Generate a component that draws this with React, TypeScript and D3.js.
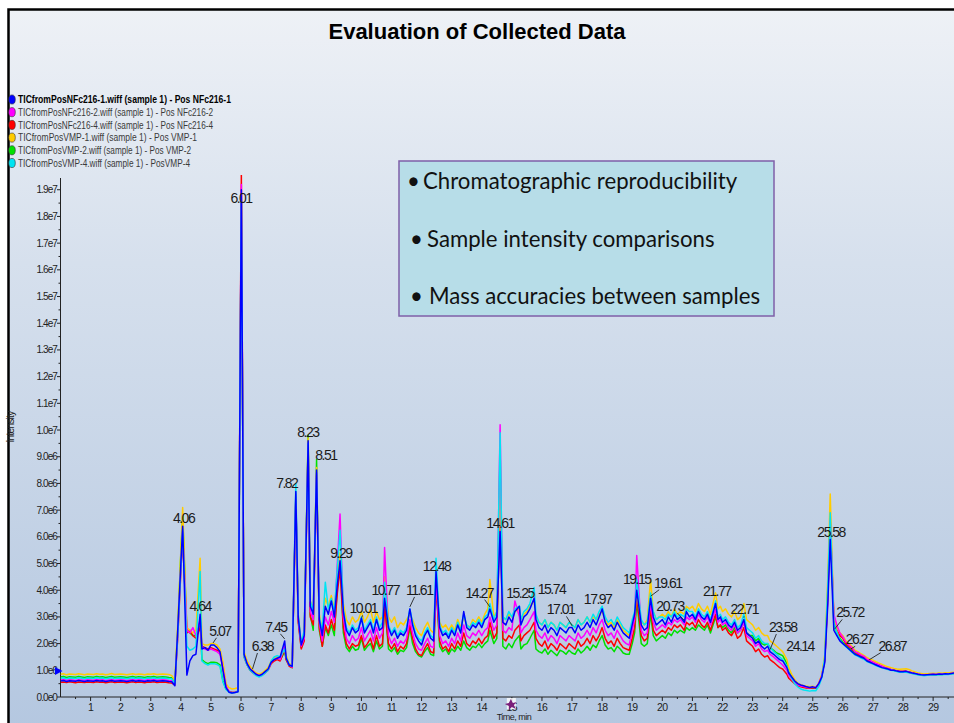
import React, { useEffect } from "react";
import * as d3 from "d3";

const TITLE = "Evaluation of Collected Data";

const legendLabels = [
  "TICfromPosNFc216-1.wiff (sample 1) - Pos NFc216-1",
  "TICfromPosNFc216-2.wiff (sample 1) - Pos NFc216-2",
  "TICfromPosNFc216-4.wiff (sample 1) - Pos NFc216-4",
  "TICfromPosVMP-1.wiff (sample 1) - Pos VMP-1",
  "TICfromPosVMP-2.wiff (sample 1) - Pos VMP-2",
  "TICfromPosVMP-4.wiff (sample 1) - PosVMP-4",
];

const boxLines = [
  "Chromatographic reproducibility",
  "Sample intensity comparisons",
  "Mass accuracies between samples",
];

// retention time, min
const times = [
  0, 0.1, 0.2, 0.3, 0.4, 0.5, 0.6, 0.7, 0.8, 0.9,
  1, 1.1, 1.2, 1.3, 1.4, 1.5, 1.6, 1.7, 1.8, 1.9,
  2, 2.1, 2.2, 2.3, 2.4, 2.5, 2.6, 2.7, 2.8, 2.9,
  3, 3.1, 3.2, 3.3, 3.4, 3.5, 3.6, 3.7, 3.8, 3.9,
  4, 4.06, 4.2, 4.3, 4.4, 4.5, 4.64, 4.7, 4.8, 4.9,
  5, 5.1, 5.2, 5.3, 5.4, 5.5, 5.6, 5.7, 5.8, 5.9,
  6.01, 6.1, 6.2, 6.3, 6.4, 6.5, 6.6, 6.7, 6.8, 6.9,
  7, 7.1, 7.2, 7.3, 7.45, 7.5, 7.6, 7.7, 7.82, 7.9,
  8, 8.1, 8.23, 8.3, 8.4, 8.51, 8.6, 8.7, 8.8, 8.9,
  9, 9.1, 9.2, 9.29, 9.4, 9.5, 9.6, 9.7, 9.8, 9.9,
  10, 10.1, 10.2, 10.3, 10.4, 10.5, 10.6, 10.7, 10.77, 10.9,
  11, 11.1, 11.2, 11.3, 11.4, 11.5, 11.61, 11.7, 11.8, 11.9,
  12, 12.1, 12.2, 12.3, 12.4, 12.48, 12.6, 12.7, 12.8, 12.9,
  13, 13.1, 13.2, 13.3, 13.4, 13.5, 13.6, 13.7, 13.8, 13.9,
  14, 14.1, 14.2, 14.27, 14.4, 14.5, 14.61, 14.7, 14.8, 14.9,
  15, 15.1, 15.25, 15.3, 15.4, 15.5, 15.6, 15.74, 15.8, 15.9,
  16, 16.1, 16.2, 16.3, 16.4, 16.5, 16.6, 16.7, 16.8, 16.9,
  17, 17.1, 17.2, 17.3, 17.4, 17.5, 17.6, 17.7, 17.8, 17.9,
  18, 18.1, 18.2, 18.3, 18.4, 18.5, 18.6, 18.7, 18.8, 18.9,
  19, 19.08, 19.15, 19.3, 19.4, 19.5, 19.61, 19.7, 19.8, 19.9,
  20, 20.1, 20.2, 20.3, 20.4, 20.5, 20.6, 20.73, 20.8, 20.9,
  21, 21.1, 21.2, 21.3, 21.4, 21.5, 21.6, 21.77, 21.85, 21.93,
  22, 22.1, 22.2, 22.3, 22.4, 22.5, 22.6, 22.71, 22.8, 22.9,
  23, 23.1, 23.2, 23.3, 23.4, 23.5, 23.58, 23.7, 23.8, 23.9,
  24, 24.14, 24.2, 24.3, 24.4, 24.5, 24.6, 24.7, 24.8, 24.9,
  25, 25.1, 25.2, 25.3, 25.4, 25.5, 25.58, 25.7, 25.8, 25.9,
  26, 26.1, 26.2, 26.3, 26.4, 26.5, 26.6, 26.7, 26.8, 26.9,
  27, 27.1, 27.2, 27.3, 27.4, 27.5, 27.6, 27.7, 27.8, 27.9,
  28, 28.1, 28.2, 28.3, 28.4, 28.5, 28.6, 28.7, 28.8, 28.9,
  29, 29.1, 29.2, 29.3, 29.4, 29.5, 29.6, 29.7,
];

// intensities in units of 1e6 counts
const nfc216_1 = [
  0.60, 0.62, 0.58, 0.61, 0.60, 0.59, 0.62, 0.60, 0.58, 0.61,
  0.60, 0.59, 0.62, 0.60, 0.61, 0.58, 0.60, 0.62, 0.59, 0.60,
  0.61, 0.60, 0.58, 0.60, 0.62, 0.59, 0.61, 0.60, 0.58, 0.61,
  0.60, 0.62, 0.59, 0.60, 0.61, 0.60, 0.58, 0.57, 0.42, 2.6,
  5.0, 6.4, 0.82, 1.35, 1.55, 1.6, 3.1, 1.8, 1.85, 1.75,
  1.95, 1.95, 1.85, 1.7, 1.0, 0.35, 0.18, 0.15, 0.17, 0.2,
  19.0, 1.6, 1.25, 1.05, 0.95, 0.85, 0.8, 0.85, 0.95, 1.05,
  1.3, 1.4, 1.45, 1.5, 2.1, 1.45, 1.2, 1.15, 7.7, 3.0,
  1.95, 2.3, 9.6, 3.4, 3.1, 8.5, 2.9, 2.3, 3.4, 3.1,
  3.6, 3.0, 4.2, 5.1, 3.2, 2.5, 2.3, 2.6, 2.4, 2.5,
  2.95, 2.4, 2.6, 2.8, 2.4, 2.9, 2.5, 2.6, 3.7, 2.6,
  2.3, 2.5, 2.2, 2.4, 2.3, 2.5, 3.3, 2.7, 2.3, 2.1,
  1.95, 2.3, 2.5, 2.2, 2.1, 4.7, 2.6, 2.3, 2.4, 2.2,
  2.5, 2.3, 2.7, 2.4, 3.2, 2.6, 2.5, 2.7, 2.6, 2.8,
  2.6, 2.9, 3.0, 3.3, 2.8, 3.0, 6.2, 2.8, 2.7, 3.0,
  2.8, 3.2, 3.4, 2.7, 3.0, 3.1, 3.3, 3.7, 2.9, 2.6,
  2.5, 2.7, 2.4, 2.6, 2.5, 2.3, 2.6, 2.5, 2.4, 2.6,
  2.6, 2.4, 2.7, 2.5, 2.6, 2.8, 2.6, 2.9, 2.7, 3.0,
  3.3, 2.8, 2.6, 2.7, 2.5, 2.8, 2.6, 2.4, 2.3, 2.2,
  2.7, 3.1, 4.0, 2.7, 2.5, 2.6, 3.7, 3.0, 2.7, 2.8,
  2.9, 2.7, 3.0, 2.8, 3.1, 2.9, 3.0, 2.8, 3.2, 3.0,
  3.1, 2.9, 3.2, 3.0, 2.9, 3.1, 2.8, 3.5, 2.9, 3.0,
  2.8, 2.9, 2.7, 2.6, 2.8, 2.5, 2.6, 2.9, 2.4, 2.3,
  2.2, 2.0, 2.1, 1.9, 1.8, 1.9, 1.7, 1.6, 1.5, 1.4,
  1.35, 1.1, 0.9, 0.75, 0.6, 0.5, 0.45, 0.42, 0.38, 0.36,
  0.38, 0.35, 0.5, 0.75, 1.3, 3.5, 5.9, 2.5, 2.3, 2.1,
  2.0, 1.9, 1.8, 1.7, 1.6, 1.55, 1.5, 1.45, 1.35, 1.3,
  1.25, 1.2, 1.15, 1.1, 1.08, 1.05, 1.0, 1.0, 0.97, 0.95,
  0.95, 0.96, 0.93, 0.9, 0.88, 0.85, 0.83, 0.82, 0.83, 0.84,
  0.85, 0.84, 0.86, 0.85, 0.87, 0.86, 0.88, 0.9,
];

const nfc216_2 = [
  0.64, 0.66, 0.63, 0.65, 0.64, 0.62, 0.65, 0.64, 0.63, 0.65,
  0.64, 0.63, 0.66, 0.64, 0.65, 0.62, 0.64, 0.66, 0.63, 0.64,
  0.65, 0.64, 0.62, 0.64, 0.66, 0.63, 0.65, 0.64, 0.62, 0.65,
  0.64, 0.66, 0.63, 0.64, 0.65, 0.64, 0.62, 0.61, 0.47, 2.4,
  4.9, 6.2, 2.5, 2.4, 2.6, 2.3, 2.9, 1.85, 1.8, 1.75,
  1.8, 1.75, 1.7, 1.6, 1.05, 0.4, 0.2, 0.16, 0.18, 0.21,
  19.2, 1.55, 1.25, 1.05, 0.95, 0.85, 0.8, 0.84, 0.92, 1.02,
  1.3, 1.4, 1.45, 1.4, 1.9, 1.45, 1.2, 1.12, 7.6, 2.9,
  1.9, 2.2, 9.5, 3.2, 2.9, 8.4, 2.8, 2.1, 3.0, 2.7,
  3.2, 2.8, 5.0, 6.85, 3.0, 2.2, 2.0, 2.3, 2.1, 2.2,
  2.6, 2.1, 2.3, 2.5, 2.1, 2.6, 2.2, 2.4, 5.6, 2.3,
  2.0, 2.2, 1.9, 2.1, 2.0, 2.2, 2.9, 2.4, 2.0, 1.8,
  1.75, 2.0, 2.2, 1.9, 1.85, 4.4, 2.3, 2.0, 2.1, 1.9,
  2.2, 2.0, 2.4, 2.1, 2.7, 2.3, 2.2, 2.4, 2.3, 2.5,
  2.3, 2.5, 2.6, 3.0, 2.5, 2.7, 10.2, 2.5, 2.4, 2.6,
  2.5, 3.6, 3.0, 2.4, 2.6, 2.7, 2.9, 3.2, 2.5, 2.3,
  2.2, 2.4, 2.1, 2.3, 2.2, 2.0, 2.3, 2.2, 2.1, 2.3,
  2.2, 2.1, 2.4, 2.2, 2.3, 2.5, 2.3, 2.6, 2.4, 2.7,
  2.9, 2.5, 2.3, 2.4, 2.2, 2.5, 2.3, 2.1, 2.0, 1.95,
  2.5, 2.9, 5.3, 2.5, 2.3, 2.4, 3.5, 2.8, 2.5, 2.6,
  2.7, 2.6, 2.8, 2.7, 2.9, 2.8, 2.9, 2.7, 3.0, 2.9,
  3.0, 2.8, 3.1, 2.9, 2.8, 3.0, 2.7, 3.3, 2.8, 2.9,
  2.7, 2.8, 2.6, 2.5, 2.7, 2.4, 2.5, 2.8, 2.3, 2.2,
  2.1, 1.9, 2.0, 1.8, 1.7, 1.75, 1.6, 1.5, 1.4, 1.3,
  1.2, 1.0, 0.8, 0.66, 0.55, 0.46, 0.41, 0.39, 0.36, 0.35,
  0.37, 0.35, 0.5, 0.8, 1.4, 3.7, 6.6, 3.1, 2.7, 2.4,
  2.25, 2.05, 1.95, 1.85, 1.7, 1.65, 1.58, 1.52, 1.42, 1.37,
  1.3, 1.25, 1.2, 1.15, 1.1, 1.07, 1.03, 1.0, 0.97, 0.95,
  0.95, 0.96, 0.93, 0.9, 0.87, 0.85, 0.83, 0.82, 0.83, 0.84,
  0.85, 0.84, 0.86, 0.85, 0.87, 0.86, 0.88, 0.89,
];

const nfc216_4 = [
  0.55, 0.56, 0.54, 0.57, 0.55, 0.53, 0.56, 0.55, 0.54, 0.56,
  0.55, 0.54, 0.57, 0.55, 0.56, 0.53, 0.55, 0.57, 0.54, 0.55,
  0.56, 0.55, 0.53, 0.55, 0.57, 0.54, 0.56, 0.55, 0.53, 0.56,
  0.55, 0.57, 0.54, 0.55, 0.56, 0.55, 0.53, 0.52, 0.45, 2.3,
  4.7, 6.0, 2.4, 2.5, 2.3, 2.2, 2.6, 1.9, 1.85, 1.8,
  1.85, 1.8, 1.75, 1.7, 1.1, 0.4, 0.2, 0.17, 0.18, 0.22,
  19.6, 1.5, 1.2, 1.0, 0.9, 0.82, 0.78, 0.82, 0.9, 1.0,
  1.25, 1.35, 1.4, 1.35, 1.8, 1.4, 1.15, 1.1, 7.4, 2.8,
  1.8, 2.1, 9.4, 3.0, 2.7, 8.3, 2.6, 1.9, 2.7, 2.4,
  2.9, 2.5, 3.9, 4.8, 2.6, 2.0, 1.8, 2.0, 1.9, 1.95,
  2.3, 1.85, 2.0, 2.2, 1.8, 2.3, 1.9, 2.0, 3.4, 2.0,
  1.8, 2.0, 1.7, 1.9, 1.8, 2.0, 2.7, 2.2, 1.8, 1.6,
  1.55, 1.8, 2.0, 1.7, 1.65, 4.2, 2.1, 1.8, 1.9, 1.7,
  2.0, 1.8, 2.1, 1.9, 2.4, 2.0, 1.9, 2.1, 2.0, 2.2,
  2.0, 2.2, 2.3, 2.8, 2.2, 2.4, 7.0, 2.2, 2.1, 2.3,
  2.2, 2.5, 2.7, 2.1, 2.3, 2.4, 2.5, 2.8, 2.2, 2.0,
  1.9, 2.1, 1.8, 2.0, 1.9, 1.75, 2.0, 1.9, 1.8, 2.0,
  1.9, 1.8, 2.1, 1.9, 2.0, 2.2, 2.0, 2.3, 2.1, 2.3,
  2.6, 2.2, 2.0, 2.1, 1.9, 2.2, 2.0, 1.85, 1.8, 1.75,
  2.2, 2.6, 3.8, 2.3, 2.1, 2.2, 3.3, 2.5, 2.3, 2.4,
  2.5, 2.4, 2.6, 2.5, 2.7, 2.6, 2.7, 2.5, 2.8, 2.7,
  2.8, 2.6, 2.9, 2.7, 2.6, 2.8, 2.5, 3.1, 2.6, 2.7,
  2.5, 2.6, 2.4, 2.3, 2.5, 2.2, 2.3, 2.6, 2.1, 2.0,
  1.9, 1.7, 1.8, 1.6, 1.5, 1.55, 1.4, 1.3, 1.2, 1.1,
  1.05, 0.85, 0.7, 0.6, 0.5, 0.42, 0.38, 0.36, 0.34, 0.33,
  0.35, 0.34, 0.5, 0.8, 1.4, 3.8, 6.5, 3.0, 2.6, 2.3,
  2.2, 2.0, 1.9, 1.8, 1.7, 1.6, 1.55, 1.5, 1.4, 1.35,
  1.3, 1.25, 1.2, 1.15, 1.1, 1.07, 1.03, 1.0, 0.98, 0.96,
  0.96, 0.97, 0.94, 0.91, 0.88, 0.86, 0.84, 0.83, 0.84, 0.85,
  0.86, 0.85, 0.87, 0.86, 0.88, 0.87, 0.89, 0.9,
];

const vmp_1 = [
  0.85, 0.87, 0.83, 0.86, 0.85, 0.84, 0.87, 0.85, 0.83, 0.86,
  0.85, 0.84, 0.87, 0.85, 0.86, 0.83, 0.85, 0.88, 0.84, 0.85,
  0.86, 0.85, 0.83, 0.85, 0.87, 0.84, 0.86, 0.85, 0.83, 0.86,
  0.85, 0.87, 0.84, 0.85, 0.86, 0.85, 0.84, 0.8, 0.6, 2.8,
  5.5, 7.1, 2.6, 2.5, 2.4, 2.5, 5.2, 2.0, 1.95, 1.95,
  2.0, 2.0, 1.95, 1.8, 1.3, 0.5, 0.35, 0.3, 0.32, 0.35,
  18.8, 1.7, 1.35, 1.15, 1.0, 0.9, 0.85, 0.9, 1.0, 1.1,
  1.35, 1.45, 1.5, 1.45, 1.85, 1.55, 1.25, 1.2, 7.3, 3.1,
  2.0, 2.4, 9.7, 3.6, 3.3, 8.6, 3.1, 2.5, 3.7, 3.4,
  3.8, 3.3, 4.4, 5.4, 3.5, 2.9, 2.7, 3.0, 2.8, 2.9,
  3.2, 2.8, 3.0, 3.3, 2.8, 3.2, 2.9, 3.0, 4.5, 3.0,
  2.8, 3.0, 2.6, 2.8, 2.7, 2.9, 3.1, 2.9, 2.6, 2.4,
  2.3, 2.6, 2.8, 2.5, 2.4, 4.3, 2.8, 2.6, 2.7, 2.5,
  2.7, 2.5, 2.9, 2.6, 3.0, 2.7, 2.6, 2.9, 2.8, 3.0,
  2.8, 3.1, 3.3, 4.4, 3.0, 3.2, 8.0, 3.0, 2.9, 3.1,
  3.0, 3.2, 3.3, 2.9, 3.1, 3.2, 3.4, 3.6, 3.0, 2.8,
  2.7, 2.9, 2.6, 2.8, 2.7, 2.5, 2.8, 2.7, 2.6, 2.8,
  2.7, 2.6, 2.9, 2.7, 2.8, 3.0, 2.8, 3.0, 2.9, 3.1,
  3.2, 2.9, 2.7, 2.8, 2.6, 2.9, 2.7, 2.5, 2.4, 2.3,
  2.8, 3.0, 3.9, 2.8, 2.7, 2.9, 4.4, 3.2, 2.9, 3.0,
  3.1, 3.0, 3.2, 3.0, 3.3, 3.1, 3.2, 3.1, 3.4, 3.3,
  3.4, 3.2, 3.5, 3.3, 3.2, 3.4, 3.1, 3.9, 3.3, 3.4,
  3.2, 3.3, 3.1, 3.0, 3.2, 2.9, 3.0, 3.5, 2.9, 2.8,
  2.7, 2.5, 2.6, 2.4, 2.3, 2.3, 2.1, 2.0, 1.9, 1.8,
  1.7, 1.4, 1.1, 0.85, 0.65, 0.52, 0.46, 0.42, 0.4, 0.38,
  0.4, 0.37, 0.52, 0.85, 1.6, 4.5, 7.6, 3.0, 2.6, 2.4,
  2.3, 2.1, 2.0, 1.9, 1.75, 1.7, 1.62, 1.56, 1.48, 1.42,
  1.38, 1.32, 1.27, 1.22, 1.17, 1.13, 1.1, 1.07, 1.05, 1.04,
  1.05, 1.06, 1.03, 0.98, 0.94, 0.9, 0.88, 0.86, 0.87, 0.88,
  0.89, 0.88, 0.9, 0.89, 0.91, 0.9, 0.92, 0.93,
];

const vmp_2 = [
  0.75, 0.77, 0.73, 0.76, 0.75, 0.74, 0.77, 0.75, 0.73, 0.76,
  0.75, 0.74, 0.77, 0.75, 0.76, 0.73, 0.75, 0.77, 0.74, 0.75,
  0.76, 0.75, 0.73, 0.75, 0.77, 0.74, 0.76, 0.75, 0.73, 0.76,
  0.75, 0.77, 0.74, 0.75, 0.76, 0.75, 0.73, 0.72, 0.55, 2.6,
  5.4, 6.8, 2.5, 2.4, 2.3, 2.3, 2.8, 1.4, 1.3, 1.25,
  1.3, 1.3, 1.28, 1.2, 0.6, 0.3, 0.2, 0.17, 0.18, 0.22,
  18.6, 1.55, 1.25, 1.05, 0.95, 0.86, 0.82, 0.86, 0.95, 1.05,
  1.3, 1.4, 1.42, 1.38, 1.7, 1.4, 1.18, 1.1, 7.5, 2.9,
  1.85, 2.2, 9.8, 3.1, 2.5, 8.9, 2.5, 1.9, 2.6, 2.3,
  2.7, 2.3, 4.2, 5.2, 2.4, 1.85, 1.7, 1.9, 1.75, 1.8,
  2.2, 1.75, 1.9, 2.0, 1.7, 2.1, 1.8, 1.9, 3.5, 1.8,
  1.7, 1.85, 1.6, 1.75, 1.7, 1.85, 2.6, 2.0, 1.7, 1.55,
  1.5, 1.7, 1.85, 1.6, 1.55, 4.3, 1.9, 1.7, 1.8, 1.6,
  1.8, 1.7, 1.9, 1.75, 2.1, 1.85, 1.75, 1.9, 1.85, 2.0,
  1.85, 2.0, 2.1, 2.5, 2.0, 2.2, 9.3, 1.9, 1.8, 2.0,
  1.85, 2.1, 2.3, 1.8, 1.95, 2.0, 2.2, 2.5, 1.8, 1.7,
  1.65, 1.8, 1.6, 1.75, 1.65, 1.55, 1.75, 1.7, 1.6, 1.75,
  1.65, 1.6, 1.8, 1.65, 1.75, 1.9, 1.75, 1.95, 1.85, 2.1,
  2.3, 1.95, 1.8, 1.85, 1.7, 1.9, 1.8, 1.65, 1.6, 1.6,
  2.0, 2.4, 3.6, 2.0, 1.9, 2.0, 3.1, 2.3, 2.1, 2.2,
  2.3, 2.2, 2.4, 2.3, 2.5, 2.4, 2.5, 2.4, 2.6, 2.5,
  2.6, 2.5, 2.7, 2.6, 2.5, 2.7, 2.4, 3.0, 2.6, 2.7,
  2.6, 2.7, 2.5, 2.4, 2.6, 2.4, 2.5, 2.8, 2.4, 2.3,
  2.3, 2.1, 2.2, 2.0, 1.95, 2.0, 1.85, 1.75, 1.65, 1.6,
  1.55, 1.25, 0.95, 0.75, 0.58, 0.48, 0.42, 0.38, 0.35, 0.33,
  0.34, 0.33, 0.48, 0.78, 1.4, 4.0, 6.6, 2.8, 2.4, 2.2,
  2.05, 1.95, 1.85, 1.75, 1.63, 1.58, 1.52, 1.47, 1.38, 1.33,
  1.27, 1.22, 1.17, 1.12, 1.09, 1.06, 1.02, 1.0, 0.97, 0.95,
  0.95, 0.95, 0.92, 0.89, 0.86, 0.84, 0.82, 0.81, 0.82, 0.83,
  0.84, 0.83, 0.85, 0.84, 0.86, 0.85, 0.87, 0.88,
];

const vmp_4 = [
  0.70, 0.72, 0.68, 0.71, 0.70, 0.69, 0.72, 0.70, 0.68, 0.71,
  0.70, 0.69, 0.72, 0.70, 0.71, 0.68, 0.70, 0.72, 0.69, 0.70,
  0.71, 0.70, 0.68, 0.70, 0.72, 0.69, 0.71, 0.70, 0.68, 0.71,
  0.70, 0.72, 0.69, 0.70, 0.71, 0.70, 0.68, 0.68, 0.5, 2.4,
  4.9, 6.3, 1.9, 1.75, 1.8, 1.9, 4.7, 1.35, 1.25, 1.2,
  1.25, 1.25, 1.22, 1.15, 0.55, 0.28, 0.18, 0.15, 0.17, 0.2,
  18.7, 1.5, 1.2, 1.0, 0.9, 0.8, 0.75, 0.8, 0.9, 1.0,
  1.35, 1.5, 1.55, 1.5, 1.8, 1.5, 1.2, 1.15, 8.0, 3.1,
  2.0, 2.5, 9.5, 3.6, 3.2, 8.4, 3.0, 2.5, 4.3, 3.3,
  3.7, 3.2, 4.8, 6.25, 3.3, 2.6, 2.4, 2.7, 2.5, 2.6,
  3.0, 2.5, 2.7, 2.9, 2.5, 3.0, 2.6, 2.8, 4.3, 2.7,
  2.4, 2.6, 2.3, 2.5, 2.4, 2.6, 3.3, 2.8, 2.4, 2.2,
  2.1, 2.4, 2.6, 2.3, 2.2, 5.2, 2.7, 2.4, 2.5, 2.3,
  2.6, 2.4, 2.8, 2.5, 3.1, 2.7, 2.6, 2.8, 2.7, 2.9,
  2.7, 3.0, 3.1, 3.5, 2.9, 3.2, 9.9, 3.0, 2.9, 3.2,
  3.0, 3.3, 3.4, 2.9, 3.2, 3.3, 3.5, 4.1, 3.1, 2.8,
  2.7, 2.9, 2.6, 2.8, 2.7, 2.5, 2.8, 2.7, 2.6, 2.8,
  2.7, 2.6, 2.9, 2.7, 2.8, 3.0, 2.8, 3.1, 2.9, 3.2,
  3.4, 3.0, 2.8, 2.9, 2.7, 3.0, 2.8, 2.6, 2.5, 2.4,
  2.9, 3.2, 4.4, 2.9, 2.7, 2.8, 3.9, 3.2, 2.9, 3.0,
  3.0, 2.9, 3.1, 3.0, 3.2, 3.0, 3.1, 3.0, 3.3, 3.2,
  3.2, 3.0, 3.3, 3.1, 3.0, 3.2, 2.9, 3.6, 3.0, 3.1,
  2.9, 3.0, 2.8, 2.7, 2.9, 2.6, 2.7, 3.1, 2.6, 2.5,
  2.4, 2.2, 2.3, 2.1, 2.0, 2.0, 1.85, 1.7, 1.6, 1.5,
  1.4, 1.15, 0.9, 0.7, 0.5, 0.38, 0.3, 0.26, 0.24, 0.22,
  0.24, 0.23, 0.4, 0.72, 1.5, 4.2, 6.9, 2.8, 2.4, 2.15,
  2.0, 1.88, 1.78, 1.68, 1.58, 1.52, 1.46, 1.41, 1.33, 1.28,
  1.23, 1.18, 1.13, 1.09, 1.06, 1.03, 1.0, 0.98, 0.95, 0.93,
  0.93, 0.93, 0.91, 0.88, 0.85, 0.83, 0.81, 0.8, 0.81, 0.82,
  0.83, 0.82, 0.84, 0.83, 0.85, 0.84, 0.86, 0.87,
];

const seriesValues = [nfc216_1, nfc216_2, nfc216_4, vmp_1, vmp_2, vmp_4];
const seriesColors = ["#0000ff", "#ff00ff", "#ff0000", "#ffcc00", "#00e000", "#00e4f2"];
const drawOrder = [4, 2, 3, 1, 5, 0];

const yTickValues = [0, 1, 2, 3, 4, 5, 6, 7, 8, 9, 10, 11, 12, 13, 14, 15, 16, 17, 18, 19];
const xTickValues = [1, 2, 3, 4, 5, 6, 7, 8, 9, 10, 11, 12, 13, 14, 15, 16, 17, 18, 19, 20, 21, 22, 23, 24, 25, 26, 27, 28, 29];

// label text (peak apex time), label centre time, label centre intensity (1e6)
const peakLabelTexts = ["4.06", "4.64", "5.07", "6.01", "6.38", "7.45", "7.82", "8.23", "8.51", "9.29", "10.01", "10.77", "11.61", "12.48", "14.27", "14.61", "15.25", "15.74", "17.01", "17.97", "19.15", "19.61", "20.73", "21.77", "22.71", "23.58", "24.14", "25.58", "25.72", "26.27", "26.87"];
const peakLabelT = [4.09, 4.64, 5.3, 6.0, 6.71, 7.16, 7.52, 8.22, 8.82, 9.32, 10.06, 10.79, 11.92, 12.5, 13.92, 14.61, 15.27, 16.32, 16.62, 17.85, 19.15, 20.18, 20.26, 21.81, 22.72, 24.0, 24.58, 25.61, 26.24, 26.55, 27.64];
const peakLabelV = [6.69, 3.41, 2.48, 18.69, 1.91, 2.63, 8.0, 9.94, 9.06, 5.4, 3.32, 4.01, 4.01, 4.92, 3.91, 6.53, 3.91, 4.03, 3.28, 3.66, 4.41, 4.28, 3.41, 3.98, 3.28, 2.62, 1.92, 6.19, 3.17, 2.16, 1.92];
const leaderPeaks = ["5.07", "6.38", "7.45", "10.01", "11.61", "14.27", "15.74", "17.01", "19.61", "20.73", "22.71", "23.58", "25.72", "26.27", "26.87"];

const fmtY = (v: number) =>
  v === 0 ? "0.0e0" : v < 10 ? `${v.toFixed(1)}e6` : `${(v / 10).toFixed(1)}e7`;

const LEGEND_WIDTHS = [213, 195, 195, 179, 173, 172];

export default function App() {
  useEffect(() => {
    document.body.style.margin = "0";
    document.body.style.overflow = "hidden";
  }, []);

  const W = 954;
  const H = 723;
  const x = d3.scaleLinear().domain([0, 29.71]).range([60.5, 954.5]);
  const y = d3.scaleLinear().domain([0, 19.44]).range([697, 178]);

  const line = d3
    .line<number>()
    .x((_, i) => x(times[i]))
    .y((d) => y(d));

  const bis = d3.bisector((d: number) => d).left;
  const interp = (vals: number[], t: number) => {
    const i = Math.max(1, Math.min(times.length - 1, bis(times, t)));
    const t0 = times[i - 1], t1 = times[i];
    const f = (t - t0) / (t1 - t0);
    return vals[i - 1] + (vals[i] - vals[i - 1]) * f;
  };

  const minorY = yTickValues.map((v) => v + 0.5).filter((v) => v < 19.44);
  const minorX = [0.5, ...xTickValues.map((v) => v + 0.5)].filter((v) => v < 29.7);

  const tickFont = "'Liberation Sans', Arial, sans-serif";
  const boxFont = "Lato, 'Open Sans', sans-serif";

  return (
    <svg
      width={W}
      height={H}
      style={{ display: "block", position: "absolute", left: 0, top: 0 }}
      xmlns="http://www.w3.org/2000/svg"
    >
      <defs>
        <linearGradient id="bg" x1="0" y1="0" x2="0" y2="1">
          <stop offset="0%" stopColor="#eef1f6" />
          <stop offset="35%" stopColor="#d6e0ed" />
          <stop offset="100%" stopColor="#b4c7e0" />
        </linearGradient>
        <clipPath id="plotClip">
          <rect x={60.5} y={175} width={894} height={522} />
        </clipPath>
      </defs>
      <rect x={0} y={0} width={W} height={H} fill="#ffffff" />
      <rect x={8.5} y={9.5} width={W} height={H} fill="url(#bg)" stroke="#000" strokeWidth={2.5} />

      <text
        x={477}
        y={39}
        textAnchor="middle"
        fontFamily="'Liberation Sans', Arial, sans-serif"
        fontWeight="bold"
        fontSize={22}
        fill="#000"
      >
        {TITLE}
      </text>

      {/* legend */}
      {legendLabels.map((lab, i) => {
        const cy = 99.5 + i * 12.7;
        return (
          <g key={lab}>
            <ellipse cx={12} cy={cy} rx={3.3} ry={4.6} fill={seriesColors[i]} stroke="#333" strokeWidth={0.6} />
            <text
              x={18}
              y={cy + 3.8}
              fontFamily={tickFont}
              fontSize={11}
              fontWeight={i === 0 ? "bold" : "normal"}
              fill={i === 0 ? "#000" : "#3a3a3a"}
              textLength={LEGEND_WIDTHS[i]}
              lengthAdjust="spacingAndGlyphs"
            >
              {lab}
            </text>
          </g>
        );
      })}

      {/* y axis */}
      <line x1={60.5} x2={60.5} y1={178} y2={697} stroke="#222" strokeWidth={1} />
      {yTickValues.map((v) => (
        <g key={"yt" + v}>
          <line x1={57} x2={60.5} y1={y(v)} y2={y(v)} stroke="#222" />
          <text
            x={57}
            y={y(v) + 3.5}
            textAnchor="end"
            fontFamily={tickFont}
            fontSize={10}
            letterSpacing={-0.9}
            fill="#222"
          >
            {fmtY(v)}
          </text>
        </g>
      ))}
      {minorY.map((v) => (
        <line key={"ym" + v} x1={58.5} x2={60.5} y1={y(v)} y2={y(v)} stroke="#222" />
      ))}
      <text
        transform={`translate(14,427) rotate(-90)`}
        textAnchor="middle"
        fontFamily={tickFont}
        fontSize={10}
        letterSpacing={-0.7}
        fill="#222"
      >
        Intensity
      </text>

      {/* x axis */}
      <line x1={60.5} x2={954} y1={697} y2={697} stroke="#222" strokeWidth={1} />
      {xTickValues.map((v) => (
        <g key={"xt" + v}>
          <line x1={x(v)} x2={x(v)} y1={697} y2={701} stroke="#222" />
          <text
            x={x(v)}
            y={711}
            textAnchor="middle"
            fontFamily={tickFont}
            fontSize={10.5}
            letterSpacing={-0.6}
            fill="#222"
          >
            {v}
          </text>
        </g>
      ))}
      {minorX.map((v) => (
        <line key={"xm" + v} x1={x(v)} x2={x(v)} y1={697} y2={699} stroke="#222" />
      ))}
      <text
        x={514}
        y={720}
        textAnchor="middle"
        fontFamily={tickFont}
        fontSize={9}
        letterSpacing={-0.5}
        fill="#222"
      >
        Time, min
      </text>

      {/* cursor markers */}
      <polygon points="55,667 62.5,671 55,675" fill="#0000ff" />
      <rect x={x(15) - 5} y={698} width={9} height={11} fill="#ffffff" opacity={0.8} />
      <path
        d={`M${x(15) - 1},${699} l2,4 l4,-1 l-3,3 l2,4 l-4,-2 l-3,3 l0,-4 l-4,-2 l4,-1 z`}
        fill="#7a1f7a"
      />

      {/* traces */}
      <g clipPath="url(#plotClip)">
        {drawOrder.map((si) => (
          <path
            key={"s" + si}
            d={line(seriesValues[si]) || ""}
            fill="none"
            stroke={seriesColors[si]}
            strokeWidth={1.5}
            strokeLinejoin="round"
          />
        ))}
      </g>

      {/* text box */}
      <rect x={399} y={161} width={375} height={155} fill="#b7dde8" stroke="#7f5fa8" strokeWidth={1.5} />
      {boxLines.map((t, i) => {
        const by = [188.5, 246.5, 304][i];
        const tx = [423, 427, 429][i];
        const bx = [407, 410, 410][i];
        return (
          <g key={t}>
            <text x={bx} y={by} fontFamily={boxFont} fontSize={22.2} fill="#111">
              •
            </text>
            <text x={tx} y={by} fontFamily={boxFont} fontSize={22.2} fill="#111">
              {t}
            </text>
          </g>
        );
      })}

      {/* peak labels */}
      {peakLabelTexts.map((lab, i) => {
        const lx = x(peakLabelT[i]);
        const ly = y(peakLabelV[i]);
        const pt = parseFloat(lab);
        const px = x(pt);
        const py = y(interp(nfc216_1, pt)) - 2;
        const hasLeader = leaderPeaks.includes(lab);
        const sx = px + (lx - px) * 0.5;
        const sy = ly + 7;
        return (
          <g key={"pl" + lab}>
            {hasLeader && py > sy + 1 && (
              <line x1={sx} y1={sy} x2={px} y2={py} stroke="#222" strokeWidth={0.9} />
            )}
            <text
              x={lx}
              y={ly + 5}
              textAnchor="middle"
              fontFamily={tickFont}
              fontSize={14}
              letterSpacing={-1.5}
              fill="#1a1a1a"
            >
              {lab}
            </text>
          </g>
        );
      })}
    </svg>
  );
}
